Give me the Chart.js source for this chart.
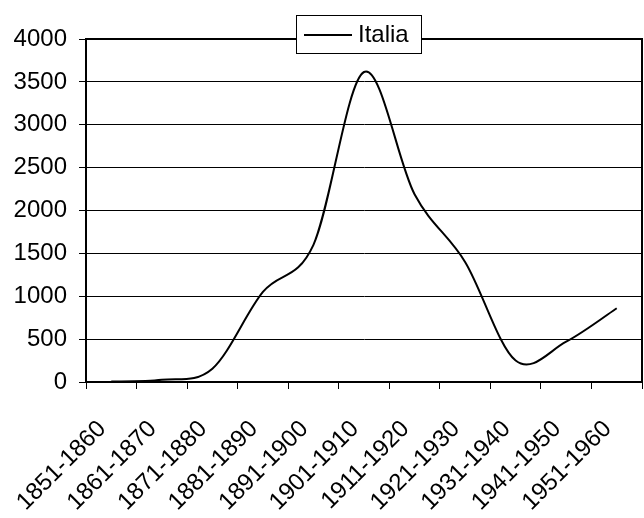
<!DOCTYPE html>
<html>
<head>
<meta charset="utf-8">
<style>
  html, body { margin: 0; padding: 0; background: #fff; }
  #wrap { width: 644px; height: 518px; }
</style>
<script src="https://cdn.jsdelivr.net/npm/chart.js@4/dist/chart.umd.min.js"></script>
</head>
<body>
<div id="wrap"><canvas id="c" width="644" height="518"></canvas></div>
<script>
// Decades on the category axis
const decades = ['1851-1860', '1861-1870', '1871-1880', '1881-1890', '1891-1900',
                 '1901-1910', '1911-1920', '1921-1930', '1931-1940', '1941-1950', '1951-1960'];
// Series values per decade
const seriesName = 'Italia';
const italia = [5, 25, 155, 1050, 1600, 3615, 2190, 1400, 250, 470, 860];
// Value axis range
const yMin = 0, yMax = 4000, yStep = 500;

const FONT = '"Liberation Sans", Arial, sans-serif';

// Smooth the line with uniform Catmull-Rom control points (P +/- (next - prev) / 6)
const smoothPlugin = {
  id: 'smooth',
  beforeDatasetsDraw(chart) {
    chart.data.datasets.forEach((ds, di) => {
      const meta = chart.getDatasetMeta(di);
      const line = meta.dataset;
      if (line && line.updateControlPoints) line.updateControlPoints(chart.chartArea, 'x');
      const pts = meta.data;
      const n = pts.length;
      for (let i = 0; i < n; i++) {
        const p = pts[i];
        const prev = pts[Math.max(i - 1, 0)];
        const next = pts[Math.min(i + 1, n - 1)];
        const dx = (next.x - prev.x) / 6;
        const dy = (next.y - prev.y) / 6;
        p.cp1x = p.x - dx; p.cp1y = p.y - dy;
        p.cp2x = p.x + dx; p.cp2y = p.y + dy;
      }
      if (line) { line._path = undefined; }
    });
  }
};

// Frame around the plot area and a boxed legend on the top edge
const framePlugin = {
  id: 'frame',
  afterDatasetsDraw(chart) {
    const { ctx, chartArea: a } = chart;
    ctx.save();
    ctx.strokeStyle = '#000';
    ctx.lineWidth = 2;
    ctx.beginPath();
    ctx.moveTo(a.left, a.top);
    ctx.lineTo(a.right, a.top);
    ctx.lineTo(a.right, a.bottom);
    ctx.stroke();
    ctx.restore();
  },
  afterDraw(chart) {
    const { ctx } = chart;
    const ds = chart.data.datasets[0];
    const bx = 296, by = 15, bw = 125, bh = 38;
    ctx.save();
    ctx.fillStyle = '#fff';
    ctx.fillRect(bx, by, bw, bh);
    ctx.strokeStyle = '#000';
    ctx.lineWidth = 1;
    ctx.strokeRect(bx + 0.5, by + 0.5, bw, bh);
    ctx.lineWidth = 2;
    ctx.beginPath();
    ctx.moveTo(bx + 8, by + 20);
    ctx.lineTo(bx + 56, by + 20);
    ctx.stroke();
    ctx.fillStyle = '#000';
    ctx.font = '24px ' + FONT;
    ctx.textBaseline = 'middle';
    ctx.textAlign = 'left';
    ctx.fillText(ds.label, bx + 62, by + 20);
    ctx.restore();
  }
};

new Chart(document.getElementById('c'), {
  type: 'line',
  data: {
    labels: decades,
    datasets: [{
      label: seriesName,
      data: italia,
      borderColor: '#000',
      borderWidth: 2,
      pointRadius: 0,
      fill: false,
      tension: 0.4,
      capBezierPoints: false
    }]
  },
  options: {
    responsive: false,
    animation: false,
    events: [],
    layout: { padding: { top: 39, right: 2, left: 0, bottom: 0 } },
    plugins: { legend: { display: false }, tooltip: { enabled: false } },
    scales: {
      x: {
        type: 'category',
        offset: true,
        afterFit(s) { s.height = 136; s.paddingLeft = 0; s.paddingRight = 0; },
        grid: {
          offset: true,
          drawOnChartArea: false,
          drawTicks: true,
          tickLength: 7,
          color: '#000',
          lineWidth: 1
        },
        border: { color: '#000', width: 2 },
        ticks: {
          color: '#000',
          font: { family: FONT, size: 24 },
          minRotation: 45,
          maxRotation: 45,
          autoSkip: false,
          padding: 26,
          labelOffset: -9
        }
      },
      y: {
        min: yMin,
        max: yMax,
        afterFit(s) { s.width = 86; s.paddingTop = 0; s.paddingBottom = 0; },
        grid: {
          color: '#000',
          lineWidth: 1,
          drawTicks: true,
          tickLength: 7
        },
        border: { color: '#000', width: 2 },
        ticks: {
          stepSize: yStep,
          color: '#000',
          font: { family: FONT, size: 24 },
          padding: 12,
          callback: (v) => String(v)
        }
      }
    }
  },
  plugins: [smoothPlugin, framePlugin]
});
</script>
</body>
</html>
